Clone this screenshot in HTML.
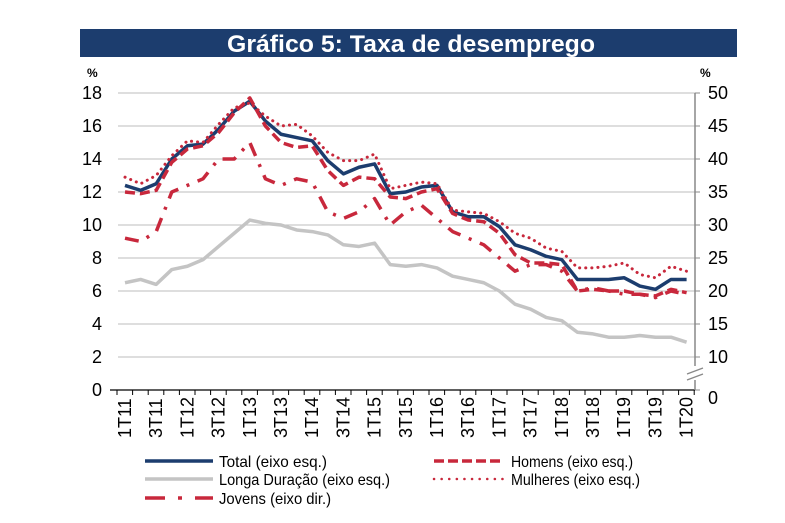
<!DOCTYPE html>
<html><head><meta charset="utf-8"><style>
body{margin:0;background:#fff;width:785px;height:518px;overflow:hidden;font-family:"Liberation Sans",sans-serif}
</style></head><body>
<svg width="785" height="518" xmlns="http://www.w3.org/2000/svg" font-family="Liberation Sans, sans-serif">
<rect x="80" y="29" width="657" height="28" fill="#1c3d6e"/>
<text x="411" y="52" text-anchor="middle" fill="#fff" font-size="24" font-weight="bold" textLength="368" lengthAdjust="spacingAndGlyphs">Gráfico 5: Taxa de desemprego</text>
<text x="87" y="77" font-size="12" font-weight="bold">%</text>
<text x="700" y="77" font-size="12" font-weight="bold">%</text>
<g stroke="#bdbdbd" stroke-width="1">
<line x1="118" x2="695" y1="93" y2="93"/><line x1="118" x2="695" y1="126" y2="126"/><line x1="118" x2="695" y1="159" y2="159"/><line x1="118" x2="695" y1="192" y2="192"/><line x1="118" x2="695" y1="225" y2="225"/><line x1="118" x2="695" y1="258" y2="258"/><line x1="118" x2="695" y1="291" y2="291"/><line x1="118" x2="695" y1="324" y2="324"/><line x1="118" x2="695" y1="357" y2="357"/>
</g>
<line x1="110" x2="695" y1="390" y2="390" stroke="#000" stroke-width="1.2"/>
<g stroke="#000" stroke-width="1" id="ticks"></g>
<line x1="695" x2="695" y1="93" y2="390" stroke="#888" stroke-width="1.5"/>
<g stroke="#888"><line x1="695" x2="700" y1="93" y2="93"/><line x1="695" x2="700" y1="126" y2="126"/><line x1="695" x2="700" y1="159" y2="159"/><line x1="695" x2="700" y1="192" y2="192"/><line x1="695" x2="700" y1="225" y2="225"/><line x1="695" x2="700" y1="258" y2="258"/><line x1="695" x2="700" y1="291" y2="291"/><line x1="695" x2="700" y1="324" y2="324"/><line x1="695" x2="700" y1="357" y2="357"/><line x1="695" x2="700" y1="390" y2="390"/></g>
<rect x="688" y="366" width="14" height="14" fill="#fff"/>
<g stroke="#888" stroke-width="1.3"><line x1="687" y1="374" x2="703" y2="368"/><line x1="687" y1="380" x2="703" y2="374"/></g>
<g font-size="18" text-anchor="end">
<text x="102" y="99">18</text><text x="102" y="132">16</text><text x="102" y="165">14</text><text x="102" y="198">12</text><text x="102" y="231">10</text><text x="102" y="264">8</text><text x="102" y="297">6</text><text x="102" y="330">4</text><text x="102" y="363">2</text><text x="102" y="396">0</text>
</g>
<g font-size="18">
<text x="708" y="99">50</text><text x="708" y="132">45</text><text x="708" y="165">40</text><text x="708" y="198">35</text><text x="708" y="231">30</text><text x="708" y="264">25</text><text x="708" y="297">20</text><text x="708" y="330">15</text><text x="708" y="363">10</text><text x="708" y="404">0</text>
</g>
<g id="xl" font-size="18"></g>
<g fill="none" stroke-linejoin="round">
<polyline id="longa" stroke="#c4c4c4" stroke-width="3.5"/>
<polyline id="total" stroke="#1c3d6e" stroke-width="3.5"/>
<polyline id="homens" stroke="#c8283c" stroke-width="3.5" stroke-dasharray="10,5"/>
<polyline id="mulheres" stroke="#c8283c" stroke-width="3" stroke-dasharray="0.1,6" stroke-linecap="round"/>
<polyline id="jovens" stroke="#c8283c" stroke-width="3.5" stroke-dasharray="14,9,3,9"/>
</g>
<g font-size="16" fill="#000">
<line x1="145" x2="213" y1="461" y2="461" stroke="#1c3d6e" stroke-width="3.5"/>
<text x="219" y="467" textLength="108" lengthAdjust="spacingAndGlyphs">Total (eixo esq.)</text>
<line x1="145" x2="213" y1="479" y2="479" stroke="#c4c4c4" stroke-width="3.5"/>
<text x="219" y="485" textLength="171" lengthAdjust="spacingAndGlyphs">Longa Duração (eixo esq.)</text>
<line x1="145" x2="213" y1="498" y2="498" stroke="#c8283c" stroke-width="3.5" stroke-dasharray="20,13,4,13"/>
<text x="219" y="504" textLength="112" lengthAdjust="spacingAndGlyphs">Jovens (eixo dir.)</text>
<line x1="434" x2="504" y1="461" y2="461" stroke="#c8283c" stroke-width="3.5" stroke-dasharray="10,4"/>
<text x="511" y="467" textLength="122" lengthAdjust="spacingAndGlyphs">Homens (eixo esq.)</text>
<line x1="434" x2="504" y1="479" y2="479" stroke="#c8283c" stroke-width="2.5" stroke-dasharray="0.1,7.5" stroke-linecap="round"/>
<text x="511" y="485" textLength="129" lengthAdjust="spacingAndGlyphs">Mulheres (eixo esq.)</text>
</g>
</svg>
<script>
const X=i=>125+i*15.6, L=v=>390-v*16.5, R=v=>93+(50-v)*6.6;
const d={
total:[12.4,12.1,12.5,14.0,14.8,14.9,15.8,16.9,17.5,16.3,15.5,15.3,15.1,13.9,13.1,13.5,13.7,11.9,12.0,12.3,12.4,10.8,10.5,10.5,9.9,8.8,8.5,8.1,7.9,6.7,6.7,6.7,6.8,6.3,6.1,6.7,6.7],
longa:[6.5,6.7,6.4,7.3,7.5,7.9,8.7,9.5,10.3,10.1,10.0,9.7,9.6,9.4,8.8,8.7,8.9,7.6,7.5,7.6,7.4,6.9,6.7,6.5,6.0,5.2,4.9,4.4,4.2,3.5,3.4,3.2,3.2,3.3,3.2,3.2,2.9],
homens:[12.0,11.9,12.1,13.8,14.6,14.8,15.6,16.8,17.7,16.0,15.0,14.7,14.8,13.3,12.4,12.9,12.8,11.7,11.6,12.0,12.2,10.7,10.3,10.2,9.5,8.2,7.7,7.7,7.6,6.0,6.1,6.0,6.0,5.8,5.7,6.1,5.9],
mulheres:[12.9,12.5,13.0,14.2,15.1,15.0,16.1,17.1,17.4,16.6,16.0,16.1,15.4,14.4,13.9,13.9,14.3,12.2,12.4,12.6,12.5,10.9,10.8,10.7,10.2,9.5,9.2,8.6,8.4,7.4,7.4,7.5,7.7,7.0,6.8,7.5,7.2]};
const jov=[28,27.5,29,35,36,37,40,40,42.5,37,36,37,36.5,32,31,32,34,30,32,33,31,29,28,27,25,23,24,24,23,20,20.5,20,19.5,19.5,19,20,19.5];
for(const k in d)document.getElementById(k).setAttribute('points',d[k].map((v,i)=>X(i)+','+L(v)).join(' '));
document.getElementById('jovens').setAttribute('points',jov.map((v,i)=>X(i)+','+R(v)).join(' '));
const NS='http://www.w3.org/2000/svg';let t=document.getElementById('ticks'),xl=document.getElementById('xl');
for(let i=0;i<=37;i++){let l=document.createElementNS(NS,'line');let x=117+i*15.6;l.setAttribute('x1',x);l.setAttribute('x2',x);l.setAttribute('y1',390);l.setAttribute('y2',395);t.appendChild(l);}
const labs=['1T11','3T11','1T12','3T12','1T13','3T13','1T14','3T14','1T15','3T15','1T16','3T16','1T17','3T17','1T18','3T18','1T19','3T19','1T20'];
labs.forEach((s,j)=>{let e=document.createElementNS(NS,'text');let x=X(j*2)+6;e.setAttribute('transform','translate('+x+',438) rotate(-90)');e.textContent=s;xl.appendChild(e);});
</script>
</body></html>
